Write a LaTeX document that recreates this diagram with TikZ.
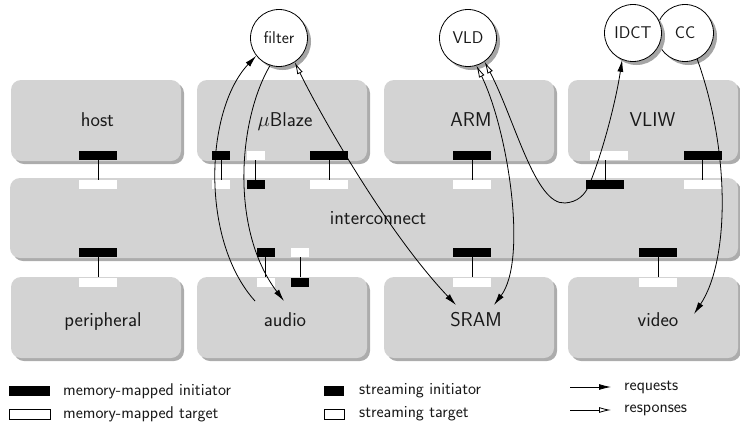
\documentclass[tikz,border=0pt]{standalone}
\usepackage{fontspec}
\usetikzlibrary{arrows.meta,shadows}
\definecolor{boxgray}{RGB}{211,211,211}
\definecolor{boxshadow}{RGB}{172,172,172}
\definecolor{circshadow}{RGB}{165,165,165}
\definecolor{txt}{RGB}{25,25,25}
\begin{document}
\begin{tikzpicture}[x=1pt,y=-1pt,
  box/.style={fill=boxgray, draw=none, rounded corners=10pt, inner sep=0pt,
    general shadow={fill=boxshadow, shadow xshift=3pt, shadow yshift=-3pt}},
  rowbox/.style={box, minimum width=170pt, minimum height=81pt},
  proc/.style={circle, draw=black, line width=0.8pt, fill=white, minimum size=57pt,
    inner sep=0pt, text=txt, font=\sffamily\fontsize{17}{20}\selectfont,
    general shadow={fill=circshadow, shadow xshift=3.5pt, shadow yshift=-3.5pt}},
  lbl/.style={font=\sffamily\fontsize{20}{24}\selectfont, text=txt, inner sep=0pt, anchor=base},
  legtxt/.style={font=\sffamily\fontsize{17}{20}\selectfont, text=txt, inner sep=0pt, anchor=west},
  port/.style={rectangle, draw=none, inner sep=0pt, minimum height=9pt},
  mmi/.style={port, fill=black, minimum width=38pt},
  mmt/.style={port, fill=white, minimum width=38pt},
  smi/.style={port, fill=black, minimum width=18pt},
  smt/.style={port, fill=white, minimum width=18pt},
  legrect/.style={rectangle, inner sep=0pt, minimum height=10pt, line width=0.7pt},
  link/.style={line width=0.7pt},
  conn/.style={line width=0.8pt},
  req/.style={conn, -{Latex[length=12pt,width=6pt]}},
  resp/.style={conn, -{Latex[length=12pt,width=6pt,fill=white]}},
  both/.style={conn, {Latex[length=12pt,width=6pt,fill=white]}-{Latex[length=12pt,width=6pt]}},
]
\useasboundingbox (0,0) rectangle (740,424);

% boxes
\node[rowbox] (host) at (96,120.5) {};
\node[rowbox] (ublaze) at (282,120.5) {};
\node[rowbox] (arm) at (469,120.5) {};
\node[rowbox] (vliw) at (653,120.5) {};
\node[box, minimum width=728pt, minimum height=80pt] (ic) at (374,218) {};
\node[rowbox] (periph) at (96,317.5) {};
\node[rowbox] (audio) at (282,317.5) {};
\node[rowbox] (sram) at (469,317.5) {};
\node[rowbox] (video) at (653,317.5) {};

% labels
\node[lbl] (hostL) at (97.5,126) {host};
\node[lbl] (ublazeL) at (285,126) {$\mu$Blaze};
\node[lbl] (armL) at (471,126) {ARM};
\node[lbl] (vliwL) at (652.5,126) {VLIW};
\node[lbl] (icL) at (378,224) {interconnect};
\node[lbl] (periphL) at (103,326.5) {peripheral};
\node[lbl] (audioL) at (285,326.5) {audio};
\node[lbl] (sramL) at (476,326.5) {SRAM};
\node[lbl] (videoL) at (658,326.5) {video};

% row 1 ports
\node[mmi] (hostP) at (98,155.5) {};
\node[smi] (ubP1) at (221,155.5) {};
\node[smt] (ubP2) at (255.5,155.5) {};
\node[mmi] (ubP3) at (329,155.5) {};
\node[mmi] (armP) at (472,155.5) {};
\node[mmt] (vlP1) at (609,155.5) {};
\node[mmi] (vlP2) at (702.5,155.5) {};
% interconnect top ports
\node[mmt] (icH) at (98,184.5) {};
\node[smt] (icU1) at (221,184.5) {};
\node[smi] (icU2) at (255.5,184.5) {};
\node[mmt] (icU3) at (329,184.5) {};
\node[mmt] (icA) at (472,184.5) {};
\node[mmi] (icV1) at (605,184.5) {};
\node[mmt] (icV2) at (702.5,184.5) {};
% interconnect bottom ports
\node[mmi] (icP) at (98,252.5) {};
\node[smi] (icAu1) at (265.5,252.5) {};
\node[smt] (icAu2) at (300,252.5) {};
\node[mmi] (icS) at (472,252.5) {};
\node[mmi] (icVd) at (658,252.5) {};
% row 3 ports
\node[mmt] (peP) at (98,282) {};
\node[smt] (auP1) at (265.5,282) {};
\node[smi] (auP2) at (300,282) {};
\node[mmt] (srP) at (472,282) {};
\node[mmt] (viP) at (658,282) {};

% port links
\draw[link] (hostP.south) -- (icH.north);
\draw[link] (ubP1.south) -- (icU1.north);
\draw[link] (ubP2.south) -- (icU2.north);
\draw[link] (ubP3.south) -- (icU3.north);
\draw[link] (armP.south) -- (icA.north);
\draw[link] (icV1.north) -- (icV1.north |- vlP1.south);
\draw[link] (vlP2.south) -- (icV2.north);
\draw[link] (icP.south) -- (peP.north);
\draw[link] (icAu1.south) -- (auP1.north);
\draw[link] (icAu2.south) -- (auP2.north);
\draw[link] (icS.south) -- (srP.north);
\draw[link] (icVd.south) -- (viP.north);

% processes
\node[proc] (filter) at (279,38) {filter};
\node[proc] (vld) at (468,38) {VLD};
\node[proc] (cc) at (685,33) {CC};
\node[proc] (idct) at (633,33) {IDCT};

% connector end points
\coordinate (auOut) at (255,301);
\coordinate (auIn) at (284,301);
\coordinate (srInA) at (456,305);
\coordinate (srInB) at (494,305);
\coordinate (vx) at (590,183);
\coordinate (viIn) at (694,314);

% connectors
\draw[req] (auOut) .. controls (200,240) and (205,110) .. (filter.218);
\draw[req] (filter.252) .. controls (238,120) and (230,230) .. (auIn);
\draw[both] (filter.303) .. controls (318,110) and (385,230) .. (srInA);
\draw[both] (vld.287) .. controls (508,130) and (528,260) .. (srInB);
\draw[conn, {Latex[length=12pt,width=6pt,fill=white]}-] (vld.305) .. controls (515,120) and (535,205) .. (565,203) .. controls (577,202) and (585,196) .. (vx);
\draw[req] (vx) .. controls (604,148) and (616,100) .. (idct.248);
\draw[req] (cc.295) .. controls (730,150) and (730,260) .. (viIn);

% legend
\node[legrect, fill=black, minimum width=41pt] (lgMMI) at (29.5,391) {};
\node[legtxt] (lgMMIt) at (63,391) {memory-mapped initiator};
\node[legrect, draw=black, fill=white, minimum width=41pt] (lgMMT) at (29.5,414) {};
\node[legtxt] (lgMMTt) at (63,414) {memory-mapped target};
\node[legrect, fill=black, minimum width=20pt] (lgSI) at (334,391) {};
\node[legtxt] (lgSIt) at (359,391) {streaming initiator};
\node[legrect, draw=black, fill=white, minimum width=20pt] (lgST) at (334,414) {};
\node[legtxt] (lgSTt) at (359,414) {streaming target};
\coordinate (lgR1) at (570,387);
\coordinate (lgR2) at (611,387);
\coordinate (lgS1) at (570,410);
\coordinate (lgS2) at (611,410);
\draw[req] (lgR1) -- (lgR2);
\draw[resp] (lgS1) -- (lgS2);
\node[legtxt] (lgRt) at (624,387) {requests};
\node[legtxt] (lgSt) at (624,410) {responses};
\end{tikzpicture}
\end{document}
